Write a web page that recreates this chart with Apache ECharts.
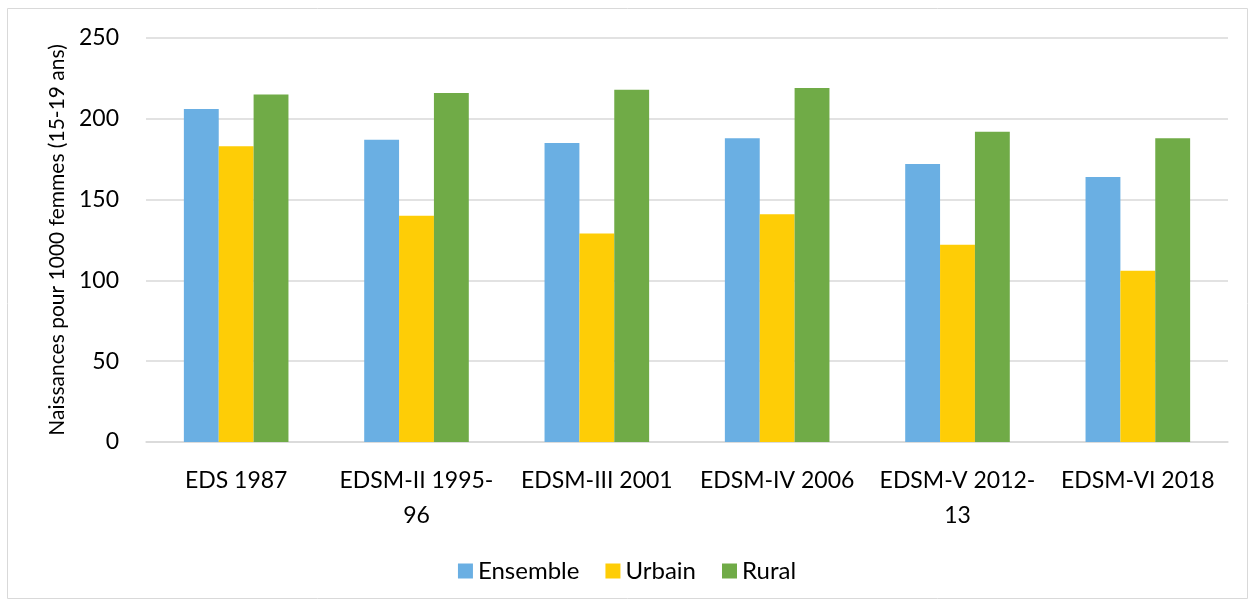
<!DOCTYPE html>
<html>
<head>
<meta charset="UTF-8">
<title>Naissances 15-19 ans</title>
<script src="https://cdn.jsdelivr.net/npm/echarts@6/dist/echarts.min.js"></script>
<style>
  html, body { margin: 0; padding: 0; background: #fff; }
  #chart { width: 1254px; height: 604px; }
</style>
</head>
<body>
<div id="chart"></div>
<script>
// données
var enquetes = ['EDS 1987', 'EDSM-II 1995-96', 'EDSM-III 2001', 'EDSM-IV 2006', 'EDSM-V 2012-13', 'EDSM-VI 2018'];
var ensemble = [206, 187, 185, 188, 172, 164];
var urbain = [183, 140, 129, 141, 122, 106];
var rural = [215, 216, 218, 219, 192, 188];

var police = 'Lato, "Open Sans", sans-serif';

var chart = echarts.init(document.getElementById('chart'));

function barre(nom, valeurs, couleur) {
  return {
    name: nom,
    type: 'bar',
    data: valeurs,
    barGap: '0%',
    barCategoryGap: '42%',
    itemStyle: { color: couleur }
  };
}

chart.setOption({
  animation: false,
  textStyle: { fontFamily: police },
  graphic: [{
    type: 'rect',
    shape: { x: 7.5, y: 8.5, width: 1240, height: 590 },
    style: { fill: 'none', stroke: '#d9d9d9', lineWidth: 1 },
    silent: true
  }],
  grid: { left: 146, right: 26, top: 38, bottom: 162 },
  legend: {
    top: 554,
    left: 'center',
    itemWidth: 15,
    itemHeight: 15,
    itemGap: 26,
    icon: 'rect',
    textStyle: { fontSize: 24, color: '#000', fontFamily: police },
    data: ['Ensemble', 'Urbain', 'Rural']
  },
  xAxis: {
    type: 'category',
    data: enquetes,
    axisTick: { show: false },
    axisLine: { lineStyle: { color: '#d9d9d9', width: 1.5 } },
    axisLabel: {
      color: '#000',
      fontSize: 23,
      margin: 21,
      lineHeight: 35,
      interval: 0,
      formatter: function (v) { return v.replace(/(\d{4}-)(\d+)$/, '$1\n$2'); }
    }
  },
  yAxis: {
    type: 'value',
    min: 0,
    max: 250,
    interval: 50,
    name: 'Naissances pour 1000 femmes (15-19 ans)',
    nameLocation: 'middle',
    nameGap: 77,
    nameTextStyle: { fontSize: 21, color: '#000', fontFamily: police },
    axisLine: { show: false },
    axisTick: { show: false },
    axisLabel: { color: '#000', fontSize: 23, margin: 27 },
    splitLine: { lineStyle: { color: '#d9d9d9', width: 1.5 } }
  },
  series: [
    barre('Ensemble', ensemble, '#6aafe3'),
    barre('Urbain', urbain, '#fecd06'),
    barre('Rural', rural, '#70ab47')
  ]
});
</script>
</body>
</html>
